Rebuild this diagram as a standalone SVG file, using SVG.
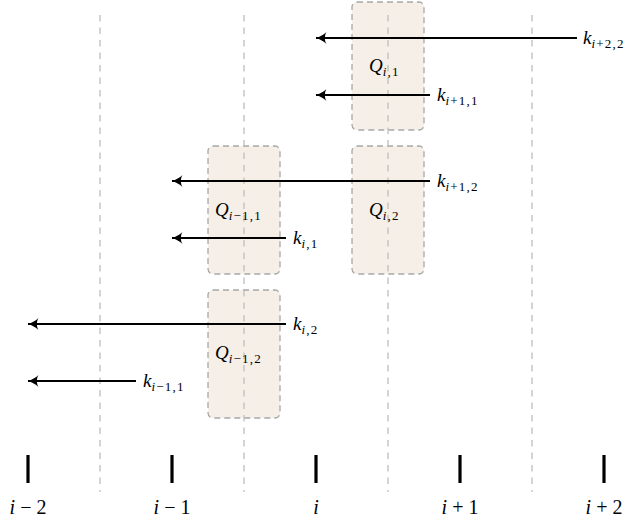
<svg xmlns="http://www.w3.org/2000/svg" width="634" height="523" viewBox="0 0 634 523">
<style>
.grid{stroke:#bdbdbd;stroke-width:1.3;stroke-dasharray:6.5,6;fill:none}
.box{fill:#f5efe7;stroke:#a8a8a8;stroke-width:1.3;stroke-dasharray:6,4}
.arr{stroke:#000;stroke-width:1.8;fill:none;marker-end:url(#ah)}
.tick{stroke:#000;stroke-width:3.2}
text{font-family:"Liberation Serif","DejaVu Serif",serif;fill:#000}
.m{font-size:19px;font-style:italic}
.s{font-size:13px;letter-spacing:1.2px}
.it{font-style:italic}
.up{font-style:normal}
.lab{font-size:20px}
</style>
<defs>
<marker id="ah" markerWidth="14" markerHeight="14" viewBox="-12 -7 14 14" refX="0" refY="0" orient="auto" markerUnits="userSpaceOnUse">
<path d="M-10.5,-6 C-7,-2.8 -3.5,-0.9 0.5,0 C-3.5,0.9 -7,2.8 -10.5,6 C-8.4,2.8 -8.4,-2.8 -10.5,-6 Z" fill="#000"/>
</marker>
</defs>
<g id="boxes">
<g id="Q_i1"><rect class="box" x="352" y="2" width="72" height="128" rx="5"/></g>
<g id="Q_i2"><rect class="box" x="352" y="146" width="72" height="128" rx="5"/></g>
<g id="Q_im11"><rect class="box" x="208" y="146" width="72" height="128" rx="5"/></g>
<g id="Q_im12"><rect class="box" x="208" y="290" width="72" height="128" rx="5"/></g>
</g>
<g id="gridlines">
<line class="grid" x1="100" y1="15" x2="100" y2="492"/>
<line class="grid" x1="244" y1="15" x2="244" y2="492"/>
<line class="grid" x1="388" y1="15" x2="388" y2="492"/>
<line class="grid" x1="532" y1="15" x2="532" y2="492"/>
</g>
<g id="box-labels">
<text x="369" y="72" class="m">Q<tspan class="s" dy="4">i</tspan><tspan class="s up">,1</tspan></text>
<text x="369" y="216" class="m">Q<tspan class="s" dy="4">i</tspan><tspan class="s up">,2</tspan></text>
<text x="215" y="216" class="m">Q<tspan class="s" dy="4">i</tspan><tspan class="s up">−1,1</tspan></text>
<text x="215" y="359" class="m">Q<tspan class="s" dy="4">i</tspan><tspan class="s up">−1,2</tspan></text>
</g>
<g id="connectors">
<line class="arr" x1="577" y1="38" x2="316" y2="38"/>
<line class="arr" x1="430" y1="95" x2="316" y2="95"/>
<line class="arr" x1="430" y1="181" x2="172" y2="181"/>
<line class="arr" x1="286" y1="238" x2="172" y2="238"/>
<line class="arr" x1="286" y1="324" x2="28" y2="324"/>
<line class="arr" x1="136" y1="381" x2="28" y2="381"/>
</g>
<g id="key-labels">
<text x="583" y="44" class="m">k<tspan class="s" dy="4">i</tspan><tspan class="s up">+2,2</tspan></text>
<text x="437" y="101" class="m">k<tspan class="s" dy="4">i</tspan><tspan class="s up">+1,1</tspan></text>
<text x="437" y="187" class="m">k<tspan class="s" dy="4">i</tspan><tspan class="s up">+1,2</tspan></text>
<text x="293" y="244" class="m">k<tspan class="s" dy="4">i</tspan><tspan class="s up">,1</tspan></text>
<text x="293" y="330" class="m">k<tspan class="s" dy="4">i</tspan><tspan class="s up">,2</tspan></text>
<text x="143" y="387" class="m">k<tspan class="s" dy="4">i</tspan><tspan class="s up">−1,1</tspan></text>
</g>
<g id="axis">
<line class="tick" x1="28" y1="455" x2="28" y2="483"/>
<line class="tick" x1="172" y1="455" x2="172" y2="483"/>
<line class="tick" x1="316" y1="455" x2="316" y2="483"/>
<line class="tick" x1="460" y1="455" x2="460" y2="483"/>
<line class="tick" x1="604" y1="455" x2="604" y2="483"/>
<text x="28" y="514" class="lab" text-anchor="middle"><tspan class="it">i</tspan> − 2</text>
<text x="172" y="514" class="lab" text-anchor="middle"><tspan class="it">i</tspan> − 1</text>
<text x="316" y="514" class="lab it" text-anchor="middle">i</text>
<text x="460" y="514" class="lab" text-anchor="middle"><tspan class="it">i</tspan> + 1</text>
<text x="604" y="514" class="lab" text-anchor="middle"><tspan class="it">i</tspan> + 2</text>
</g>
</svg>
